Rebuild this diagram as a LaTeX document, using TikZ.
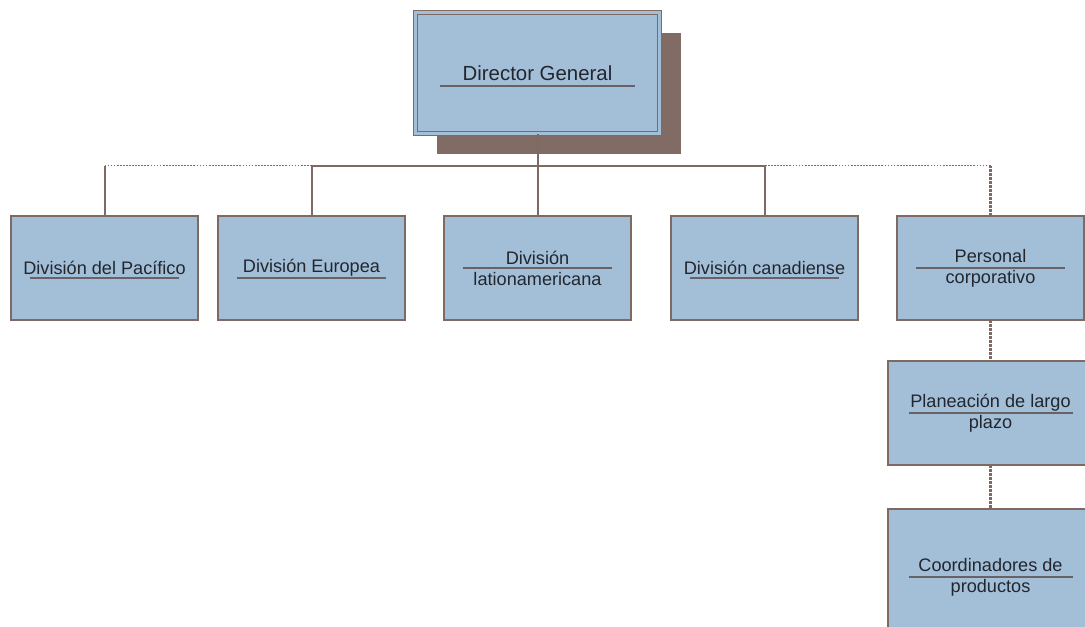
\documentclass[tikz,border=0pt]{standalone}
\usepackage{fontspec}
\setmainfont{Liberation Sans}
\usetikzlibrary{positioning,calc,shadows}
\definecolor{boxblue}{RGB}{163,191,216}
\definecolor{edgebrown}{RGB}{126,106,98}
\definecolor{shadebrown}{RGB}{128,108,100}
\definecolor{rulegray}{RGB}{104,98,102}
\definecolor{textgray}{RGB}{34,38,46}
\tikzset{
    orgbox/.style   = {rectangle, draw=edgebrown, fill=boxblue, line width=1.3pt, minimum width=140.25pt, minimum height=78pt, inner sep=0pt, outer sep=0pt, align=center, text=textgray, font=\fontsize{13.6}{15.75}\selectfont},
    underbar/.style = {path picture={\draw[rulegray, line width=1.3pt] ($(path picture bounding box.west)!0.1!(path picture bounding box.east)+(0,#1)$) -- ($(path picture bounding box.west)!0.9!(path picture bounding box.east)+(0,#1)$);}},
    orgedge/.style  = {edgebrown, -, line width=1.5pt},
    dotedge/.style  = {edgebrown, -, line width=1.3pt, densely dotted},
    dashedge/.style = {edgebrown, -, line width=1.6pt, dash pattern=on 2pt off 1pt},
}

\begin{document}
\begin{tikzpicture}[x=0.75pt, y=-0.75pt]
        \useasboundingbox (0,0) rectangle (1085,626);
        \node[orgbox, underbar=13, minimum width=183pt, minimum height=90.75pt, line width=1pt, double=boxblue, double distance=2.2pt, drop shadow={shadow xshift=16pt, shadow yshift=-15.5pt, fill=shadebrown, opacity=1}, font=\fontsize{15.3}{18}\selectfont](dir) at (537.5,73) {Director General};
        \node[orgbox, underbar=0, below=61.875pt of dir](latam){División\\lationamericana};
        \node[orgbox, underbar=10, left=29.25pt of latam](euro){División Europea};
        \node[orgbox, underbar=10, left=15pt of euro](pac){División del Pacífico};
        \node[orgbox, underbar=10, right=30pt of latam](cana){División canadiense};
        \node[orgbox, underbar=0, right=29.25pt of cana](pers){Personal\\corporativo};
        \node[orgbox, underbar=0, minimum width=153.75pt, below=30.75pt of pers](plan){Planeación de largo\\plazo};
        \node[orgbox, underbar=0, minimum width=153.75pt, minimum height=102pt, below=33pt of plan](coord){Coordinadores de\\productos};
        \coordinate[below=24pt of dir](bus);

        \path (dir) edge[orgedge] (latam);
        \draw[orgedge] (euro) |- (bus);
        \draw[orgedge] (cana) |- (bus);
        \draw[orgedge] (pac) -- (pac |- bus);
        \draw[dotedge] (pac |- bus) -- (euro |- bus);
        \draw[dashedge] (pers) -- (pers |- bus);
        \draw[dotedge] (pers |- bus) -- (cana |- bus);
        \path (pers) edge[dashedge] (plan);
        \path (plan) edge[dashedge] (coord);
    \end{tikzpicture}
\end{document}
